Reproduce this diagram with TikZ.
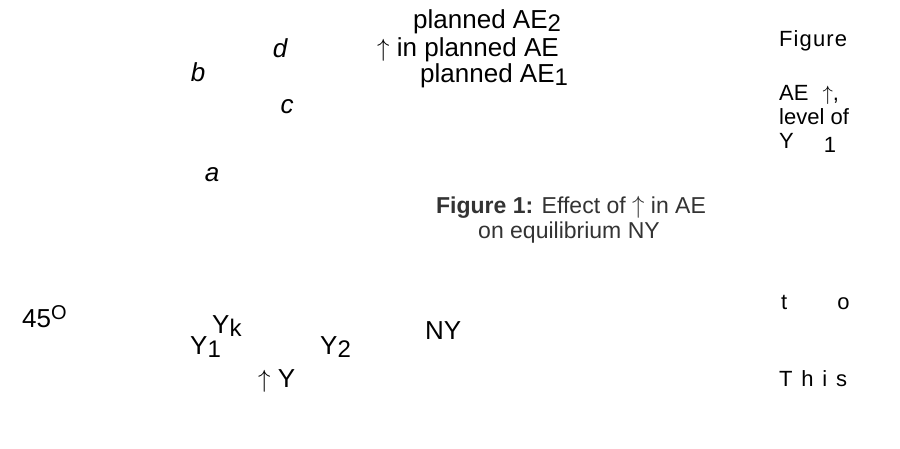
\documentclass[tikz,border=0pt]{standalone}
\usepackage{fontspec}
\setmainfont{Liberation Sans}
\newfontfamily\figfont[LetterSpace=5]{Liberation Sans}
\newfontfamily\widefont[LetterSpace=40]{Liberation Sans}
\newcommand{\lowr}[1]{\raisebox{-3pt}{\fontsize{24}{24}\selectfont #1}}
\newcommand{\highr}[1]{\raisebox{8pt}{\fontsize{20}{20}\selectfont #1}}
\newcommand{\up}{\ensuremath{\uparrow}}

\begin{document}
\begin{tikzpicture}[x=1pt, y=-1pt,
    txt/.style={inner sep=0pt, anchor=base west, font=\fontsize{26}{26}\selectfont},
    pointlbl/.style={inner sep=0pt, anchor=center, font=\fontsize{26}{26}\selectfont\itshape},
    sidetxt/.style={inner sep=0pt, anchor=base west, font=\fontsize{22}{22}\selectfont},
    captxt/.style={inner sep=0pt, anchor=base, font=\fontsize{23}{23}\selectfont, text=black!80}
]
\fill[white] (0,0) rectangle (900,448);
\useasboundingbox (0,0) rectangle (900,448);

% AE schedules
\node[txt] (ae2) at (413,28) {planned AE\lowr{2}};
\node[txt] (aeup) at (377,56) {\up\ in planned AE};
\node[txt] (ae1) at (420,82) {planned AE\lowr{1}};

% Points on the schedules
\node[pointlbl] (pd) at (280,48) {d};
\node[pointlbl] (pb) at (198,72) {b};
\node[pointlbl] (pc) at (287,107) {c};
\node[pointlbl] (pa) at (212,175) {a};

% Caption
\node[captxt] (cap1) at (571,213) {\textbf{Figure 1:} Effect of \up\ in AE};
\node[captxt] (cap2) at (569,238) {on equilibrium NY};

% Axis labels
\node[txt] (deg) at (22,327) {45\highr{O}};
\node[txt] (yk) at (212,333) {Y\lowr{k}};
\node[txt] (y1) at (190,354) {Y\lowr{1}};
\node[txt] (y2) at (320,354) {Y\lowr{2}};
\node[txt] (ny) at (425,339) {NY};
\node[txt] (yup) at (258,387) {\up\ Y};

% Text beside the figure
\node[sidetxt, font=\fontsize{22}{22}\figfont] (s1) at (779,46) {Figure};
\node[sidetxt] (s2) at (779,100) {AE\hspace{14pt}\up,};
\node[sidetxt] (s3) at (779,124) {level of};
\node[sidetxt] (s4) at (779,148) {Y\hspace{30pt}\raisebox{-4pt}{1}};
\node[sidetxt] (s5) at (781,309) {t\hspace{50pt}o};
\node[sidetxt, font=\fontsize{22}{22}\widefont] (s6) at (779,386) {This};

\end{tikzpicture}
\end{document}
